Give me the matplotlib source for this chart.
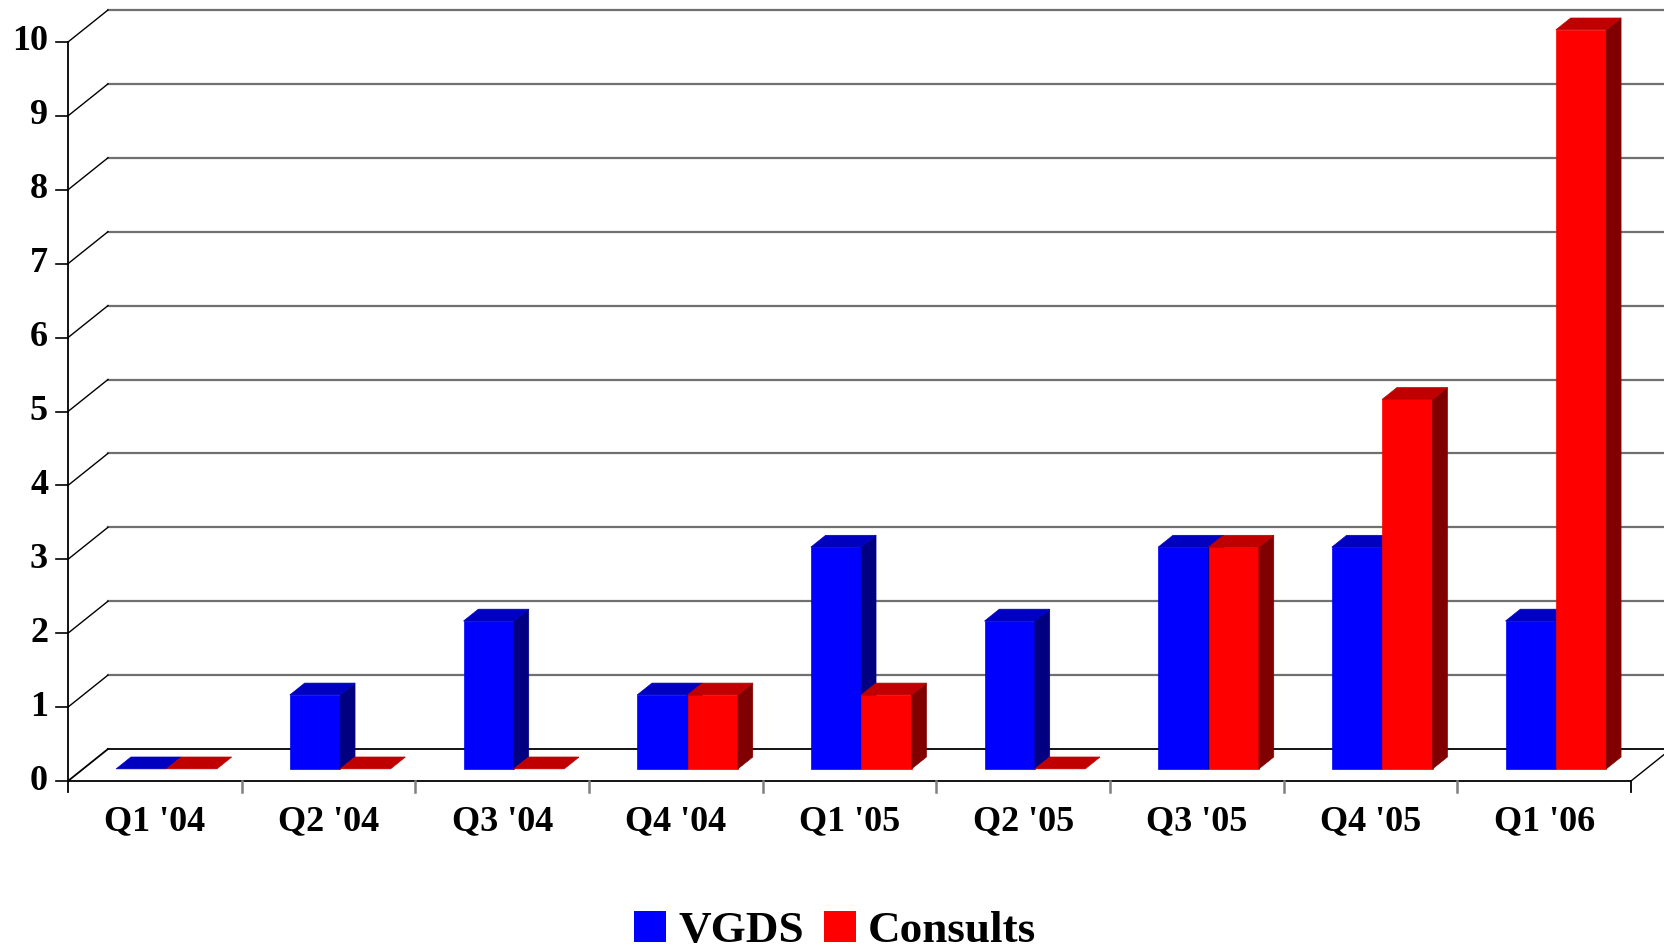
import numpy as np
import matplotlib.pyplot as plt
from matplotlib.patches import Polygon, Patch

## Data ##
quarters = ["Q1 '04", "Q2 '04", "Q3 '04", "Q4 '04", "Q1 '05", "Q2 '05", "Q3 '05", "Q4 '05", "Q1 '06"]
vgds = [0, 1, 2, 1, 3, 2, 3, 3, 2]
consults = [0, 0, 0, 1, 1, 0, 3, 5, 10]
series_names = ['VGDS', 'Consults']
y_ticks = np.arange(0, 11)

# face colours: front, top, side
face_cols = [('#0000FF', '#0000C0', '#000080'),
             ('#FF0000', '#C00000', '#800000')]

## Depth projection (data units) ##
DX = 40 / 173.7   # wall depth along x, in categories
DY = 32 / 73.9    # wall depth along y, in values
z_front, z_back = 0.38, 0.75
bw = 0.29
shift = -0.02

def proj(x, y, z):
    return (x + z * DX, y + z * DY)

plt.rcParams['font.family'] = ['Liberation Serif', 'DejaVu Serif']
plt.rcParams['font.weight'] = 'bold'

fig = plt.figure(figsize=(16.64, 9.48), dpi=100)
ax = fig.add_axes([68 / 1664, 1 - 781 / 948, (1631 - 68) / 1664, 739 / 948])
ax.set_xlim(0, len(quarters))
ax.set_ylim(0, 10)
ax.axis('off')

n = len(quarters)
x_far = n + 1.0

## Walls and gridlines ##
for k in y_ticks:
    gx = [proj(0, k, 1)[0], x_far]
    gy = [proj(0, k, 1)[1]] * 2
    col = 'black' if k == 0 else '#707070'
    ax.plot(gx, gy, color=col, lw=1.6 if k else 1.3, clip_on=False, zorder=1)
    p0, p1 = proj(0, k, 0), proj(0, k, 1)
    ax.plot([p0[0], p1[0]], [p0[1], p1[1]], color='black', lw=1.0 if k else 1.3, clip_on=False, zorder=1)
    ax.plot([-12 / 173.7, 0], [k, k], color='black', lw=1.2, clip_on=False, zorder=1)
    ax.text(-20 / 173.7, k, str(k), ha='right', va='center', fontsize=26, fontweight='bold')

# front axis and floor
ax.plot([0, 0], [-11 / 73.9, 10], color='black', lw=1.3, clip_on=False, zorder=2)
ax.plot([0, n], [0, 0], color='black', lw=1.3, clip_on=False, zorder=2)
pr0, pr1 = proj(n, 0, 0), proj(n, 0, 1)
ax.plot([pr0[0], pr1[0]], [pr0[1], pr1[1]], color='black', lw=1.0, clip_on=False, zorder=2)
for i in range(1, n + 1):
    ax.plot([i, i], [0, -11 / 73.9], color='#808080' if i < n else 'black', lw=1.8 if i < n else 1.3,
            clip_on=False, zorder=2)

for i, q in enumerate(quarters):
    ax.text(i + 0.5, -41 / 73.9, q, ha='center', va='center', fontsize=26, fontweight='bold')

## Bars ##
for i in range(n):
    for s, vals in enumerate([vgds, consults]):
        v = vals[i]
        x0 = i + 0.5 - bw + s * bw + shift
        x1 = x0 + bw
        front_c, top_c, side_c = face_cols[s]
        zo = 3 + i * 0.1 + s * 0.01
        top = [proj(x0, v, z_front), proj(x1, v, z_front), proj(x1, v, z_back), proj(x0, v, z_back)]
        if v > 0:
            front = [proj(x0, 0, z_front), proj(x1, 0, z_front), proj(x1, v, z_front), proj(x0, v, z_front)]
            side = [proj(x1, 0, z_front), proj(x1, v, z_front), proj(x1, v, z_back), proj(x1, 0, z_back)]
            ax.add_patch(Polygon(front, closed=True, fc=front_c, ec=front_c, lw=0.5, zorder=zo, clip_on=False))
            ax.add_patch(Polygon(side, closed=True, fc=side_c, ec=side_c, lw=0.5, zorder=zo, clip_on=False))
        ax.add_patch(Polygon(top, closed=True, fc=top_c, ec=top_c, lw=0.5, zorder=zo, clip_on=False))

## Legend ##
handles = [Patch(fc=face_cols[s][0], ec='none') for s in range(2)]
fig.legend(handles, series_names, loc='center', bbox_to_anchor=(0.502, 0.018), ncol=2, frameon=False,
           prop={'size': 32.5, 'weight': 'bold'}, handlelength=0.7, handleheight=0.7,
           handletextpad=0.27, columnspacing=0.45, borderpad=0, borderaxespad=0)

plt.savefig('out.png', dpi=100)
